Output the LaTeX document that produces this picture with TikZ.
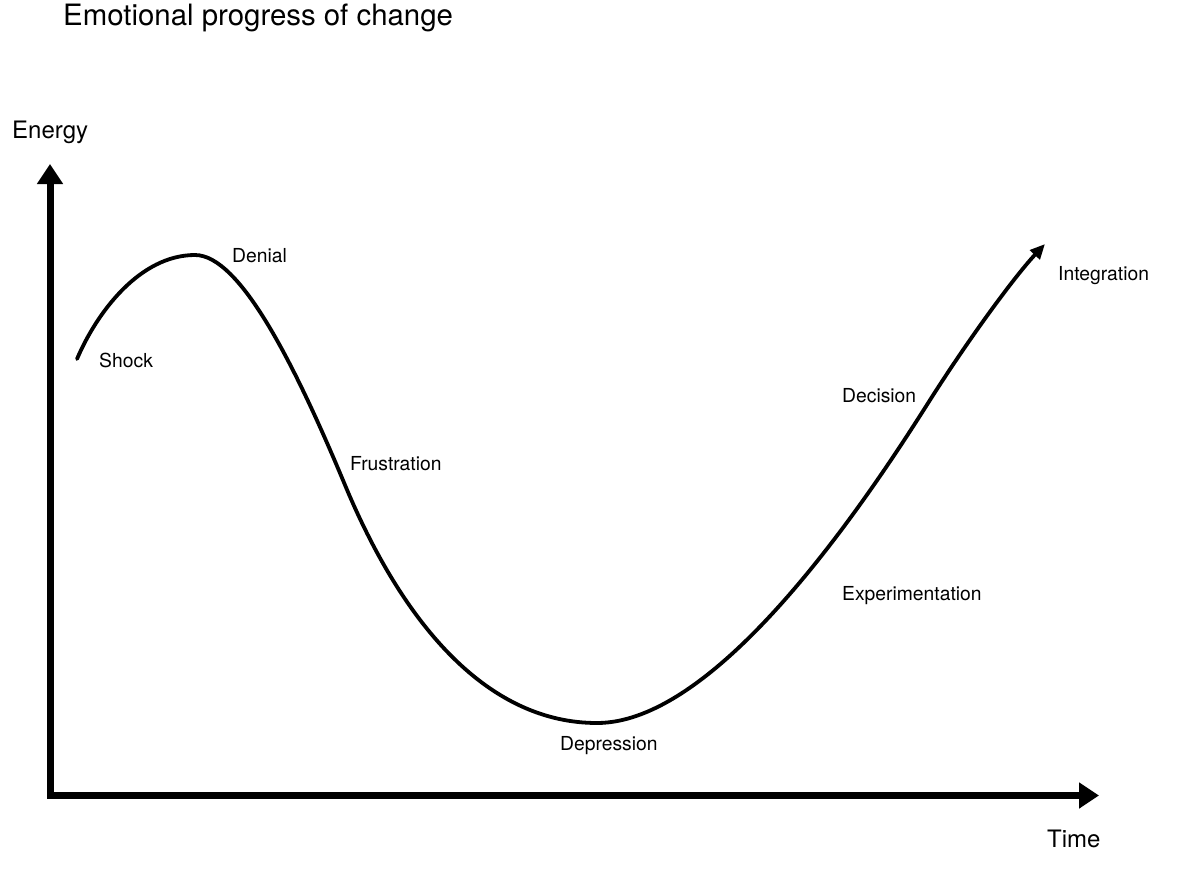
\documentclass[tikz,border=0pt]{standalone}
\usepackage{fontspec}
\setmainfont{TeX Gyre Heros}
\usetikzlibrary{arrows.meta}
\begin{document}
\begin{tikzpicture}[x=1pt,y=-1pt,
  axis/.style={line width=7pt,line join=miter,-{Triangle[length=20pt,width=25pt]}},
  curve/.style={line width=3.8pt,line cap=round,-{Triangle[length=15pt,width=13pt]}},
  lbl/.style={font=\fontsize{19.3}{22}\selectfont,anchor=base west,inner sep=0pt},
  big/.style={font=\fontsize{24}{28}\selectfont,anchor=base west,inner sep=0pt}]
\useasboundingbox (0,0) rectangle (1192,868);
\coordinate (origin) at (50,795.5);
\coordinate (ytip) at (50,164);
\coordinate (xtip) at (1099,795.5);
\coordinate (start) at (77,359);
\coordinate (peak) at (195,255);
\coordinate (infl1) at (345,485);
\coordinate (bottom) at (597,723);
\coordinate (infl2) at (930,400);
\coordinate (end) at (1045,244);
\draw[axis] (origin) -- (ytip);
\draw[axis] (origin) -- (xtip);
\draw[line width=7pt,line join=miter] (50,780) -- (origin) -- (70,795.5);
\draw[curve] (start) .. controls (97,312) and (140,255) .. (peak)
  .. controls (240,255) and (295,365) .. (infl1)
  .. controls (405,629) and (490,723) .. (bottom)
  .. controls (720,723) and (870,495) .. (infl2)
  .. controls (970,337) and (1015,276) .. (end);
\node[font=\fontsize{29.4}{33}\selectfont,anchor=base west,inner sep=0pt] (title) at (63,25) {Emotional progress of change};
\node[big] (energy) at (12,138) {Energy};
\node[big] (time) at (1047,847) {Time};
\node[lbl] (shock) at (99,367) {Shock};
\node[lbl] (denial) at (232,262) {Denial};
\node[lbl] (frus) at (350,470) {Frustration};
\node[lbl] (dep) at (560,750) {Depression};
\node[lbl] (exp) at (842,600) {Experimentation};
\node[lbl] (dec) at (842,402) {Decision};
\node[lbl] (int) at (1058,280) {Integration};
\end{tikzpicture}
\end{document}
